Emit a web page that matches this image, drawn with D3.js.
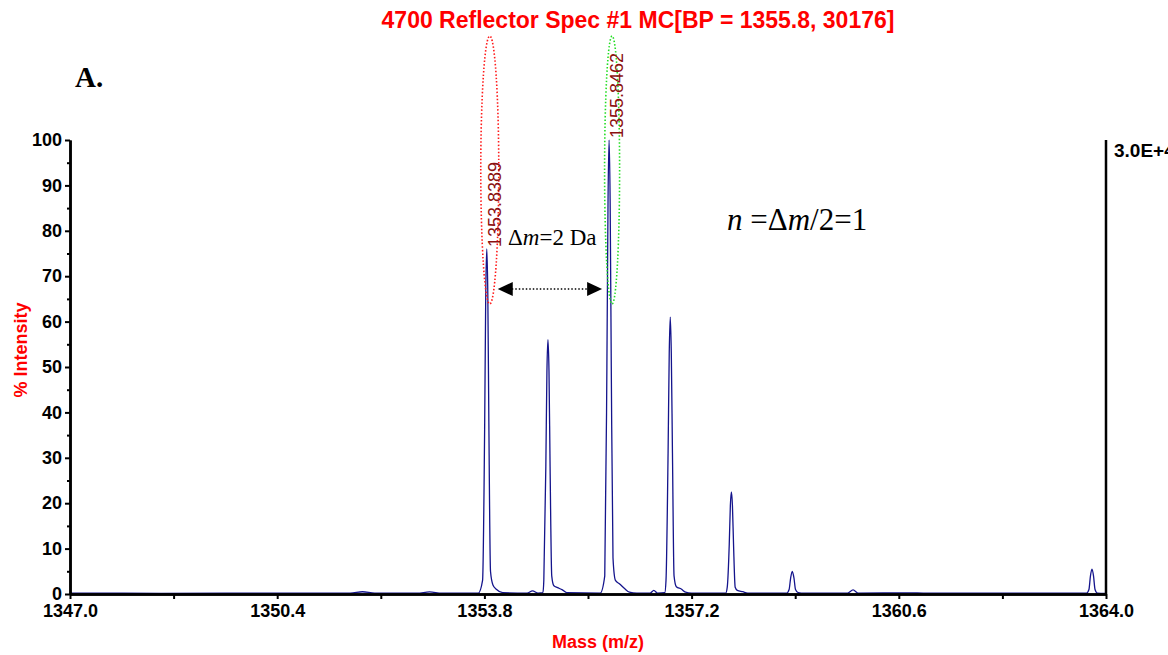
<!DOCTYPE html>
<html>
<head>
<meta charset="utf-8">
<script src="https://cdn.jsdelivr.net/npm/d3@7"></script>
<style>
  body { margin: 0; background: #fff; }
  svg { display: block; }
  .tick text { font-family: "Liberation Sans", Arial, sans-serif; font-weight: bold; font-size: 18px; fill: #000; }
</style>
</head>
<body>
<div id="chart"></div>
<script>
const WIDTH = 1168;
const HEIGHT = 655;

// profile of the spectrum (one line per feature)
const mzPoints = [
  1347.0, 1348.5, 1350.0, 1351.6, 1351.8, 1352.0, 1352.7, 1352.9, 1353.1,
  1353.70, 1353.77, 1353.805, 1353.822, 1353.839, 1353.856, 1353.873, 1353.90, 1353.94, 1354.0, 1354.1,
  1354.5, 1354.59, 1354.68,
  1354.76, 1354.775, 1354.808, 1354.826, 1354.843, 1354.86, 1354.878, 1354.905, 1354.94, 1355.0, 1355.08, 1355.15,
  1355.7, 1355.775, 1355.81, 1355.829, 1355.846, 1355.863, 1355.882, 1355.91, 1355.95, 1356.02, 1356.1, 1356.18, 1356.3,
  1356.52, 1356.58, 1356.64,
  1356.76, 1356.78, 1356.814, 1356.833, 1356.85, 1356.867, 1356.886, 1356.912, 1356.95, 1357.03, 1357.1, 1357.2,
  1357.76, 1357.785, 1357.818, 1357.836, 1357.853, 1357.87, 1357.888, 1357.915, 1357.95, 1358.04, 1358.12,
  1358.76, 1358.80, 1358.825, 1358.852, 1358.88, 1358.905, 1358.95, 1359.0,
  1359.76, 1359.85, 1359.93,
  1360.8, 1361.0, 1362.5,
  1363.68, 1363.72, 1363.745, 1363.77, 1363.795, 1363.82, 1363.86, 1364.0
];
const intensityPoints = [
  0.2, 0.15, 0.2, 0.2, 0.5, 0.2, 0.2, 0.45, 0.2,
  0.2, 3, 38, 66, 76, 66, 38, 5, 2, 1, 0.3,
  0.2, 0.7, 0.2,
  0.3, 3, 28, 49, 56, 49, 28, 4, 1.8, 1.4, 0.9, 0.3,
  0.2, 4, 50, 87, 100, 87, 50, 8, 3, 2.2, 1.2, 0.4, 0.2,
  0.2, 0.8, 0.2,
  0.3, 3, 31, 53, 61, 53, 31, 4, 1.6, 1.1, 0.4, 0.2,
  0.2, 1.5, 11, 19.5, 22.5, 19.5, 11, 1.5, 0.8, 0.5, 0.2,
  0.2, 1, 3.5, 5, 3.5, 1, 0.3, 0.2,
  0.2, 0.9, 0.2,
  0.25, 0.2, 0.2,
  0.2, 1, 4, 5.5, 4, 1, 0.2, 0.15
];

const xTicks = [1347.0, 1350.4, 1353.8, 1357.2, 1360.6, 1364.0];
const xMinorTicks = [1348.7, 1352.1, 1355.5, 1358.9, 1362.3];
const yTicks = [0, 10, 20, 30, 40, 50, 60, 70, 80, 90, 100];
const yMinorTicks = [5, 15, 25, 35, 45, 55, 65, 75, 85, 95];

const labelledMz = [1353.8389, 1355.8462];
const labelledIntensity = [76, 100];
const labelledText = ['1353.8389', '1355.8462'];
const ellipseColours = ['#ff1a1a', '#22dd22'];

const titleText = '4700 Reflector Spec #1 MC[BP = 1355.8, 30176]';

const sans = '"Liberation Sans", Arial, sans-serif';
const serif = '"Liberation Serif", "Times New Roman", serif';

const svg = d3.select('#chart')
  .append('svg')
  .attr('width', WIDTH)
  .attr('height', HEIGHT);

const x = d3.scaleLinear().domain([1347, 1364]).range([70, 1106]);
const y = d3.scaleLinear().domain([0, 100]).range([594, 140]);

// title and panel letter
svg.append('text')
  .attr('x', 638).attr('y', 28)
  .attr('text-anchor', 'middle')
  .style('font-family', sans).style('font-weight', 'bold').style('font-size', '23px')
  .style('fill', '#ff0000')
  .text(titleText);

svg.append('text')
  .attr('x', 75).attr('y', 87)
  .style('font-family', serif).style('font-weight', 'bold').style('font-size', '29px')
  .text('A.');

// spectrum
const spectrum = mzPoints.map((mz, i) => [mz, intensityPoints[i]]);
const line = d3.line()
  .x((d) => x(d[0]))
  .y((d) => y(d[1]))
  .curve(d3.curveMonotoneX);

svg.append('path')
  .datum(spectrum)
  .attr('d', line)
  .attr('fill', 'none')
  .attr('stroke', '#14148c')
  .attr('stroke-width', 1.3);

// axes
const xAxis = d3.axisBottom(x)
  .tickValues(xTicks)
  .tickFormat(d3.format('.1f'))
  .tickSize(5)
  .tickSizeOuter(0)
  .tickPadding(5);

const xMinor = d3.axisBottom(x)
  .tickValues(xMinorTicks)
  .tickFormat('')
  .tickSize(5)
  .tickSizeOuter(0);

const yAxis = d3.axisLeft(y)
  .tickValues(yTicks)
  .tickSize(5)
  .tickSizeOuter(0)
  .tickPadding(3);

const yMinor = d3.axisLeft(y)
  .tickValues(yMinorTicks)
  .tickFormat('')
  .tickSize(3)
  .tickSizeOuter(0);

svg.append('g').attr('transform', `translate(0, ${y(0)})`).call(xAxis);
svg.append('g').attr('transform', `translate(0, ${y(0)})`).call(xMinor);
svg.append('g').attr('transform', `translate(${x(1347)}, 0)`).call(yAxis);
svg.append('g').attr('transform', `translate(${x(1347)}, 0)`).call(yMinor);

svg.selectAll('.domain').attr('stroke', '#000').attr('stroke-width', 2.5);
svg.selectAll('.tick line').attr('stroke', '#000').attr('stroke-width', 2);

// right axis
svg.append('line')
  .attr('x1', x(1364)).attr('x2', x(1364))
  .attr('y1', y(100)).attr('y2', y(0))
  .attr('stroke', '#000').attr('stroke-width', 2.5);

svg.append('text')
  .attr('x', x(1364) + 8).attr('y', y(100) + 17)
  .style('font-family', sans).style('font-weight', 'bold').style('font-size', '19px')
  .text('3.0E+4');

// axis titles
svg.append('text')
  .attr('x', 598).attr('y', 648)
  .attr('text-anchor', 'middle')
  .style('font-family', sans).style('font-weight', 'bold').style('font-size', '18px')
  .style('fill', '#ff0000')
  .text('Mass (m/z)');

svg.append('text')
  .attr('transform', 'translate(27, 350) rotate(-90)')
  .attr('text-anchor', 'middle')
  .style('font-family', sans).style('font-weight', 'bold').style('font-size', '18px')
  .style('fill', '#ff0000')
  .text('% Intensity');

// dotted ellipses round the labelled peaks
svg.append('g')
  .selectAll('ellipse')
  .data(labelledMz)
  .join('ellipse')
  .attr('cx', (mz) => x(mz) + 3)
  .attr('cy', 170)
  .attr('rx', (_, i) => (i === 0 ? 9 : 7.5))
  .attr('ry', 134)
  .attr('fill', 'none')
  .attr('stroke', (_, i) => ellipseColours[i])
  .attr('stroke-width', 1.6)
  .attr('stroke-dasharray', '1.5,2');

// peak labels
svg.append('g')
  .selectAll('text')
  .data(labelledMz)
  .join('text')
  .attr('transform', (mz, i) => `translate(${x(mz) + 14}, ${y(labelledIntensity[i]) - 2}) rotate(-90)`)
  .style('font-family', sans).style('font-size', '18px')
  .style('fill', '#8b1010')
  .text((_, i) => labelledText[i]);

// double arrow between the two peaks
const arrowY = 289;
const ax1 = x(labelledMz[0]) + 11;
const ax2 = x(labelledMz[1]) - 7;

svg.append('line')
  .attr('x1', ax1 + 14).attr('x2', ax2 - 14)
  .attr('y1', arrowY).attr('y2', arrowY)
  .attr('stroke', '#000').attr('stroke-width', 1.6)
  .attr('stroke-dasharray', '1.5,2');

svg.append('path')
  .attr('d', `M${ax1},${arrowY} L${ax1 + 15},${arrowY - 7} L${ax1 + 15},${arrowY + 7} Z`)
  .attr('fill', '#000');

svg.append('path')
  .attr('d', `M${ax2},${arrowY} L${ax2 - 15},${arrowY - 7} L${ax2 - 15},${arrowY + 7} Z`)
  .attr('fill', '#000');

const delta = svg.append('text')
  .attr('x', 508).attr('y', 245)
  .style('font-family', serif).style('font-size', '23px');
delta.append('tspan').text('\u0394');
delta.append('tspan').style('font-style', 'italic').text('m');
delta.append('tspan').text('=2 Da');

const formula = svg.append('text')
  .attr('x', 727).attr('y', 230)
  .style('font-family', serif).style('font-size', '31px');
formula.append('tspan').style('font-style', 'italic').text('n');
formula.append('tspan').text(' =\u0394');
formula.append('tspan').style('font-style', 'italic').text('m');
formula.append('tspan').text('/2=1');
</script>
</body>
</html>
